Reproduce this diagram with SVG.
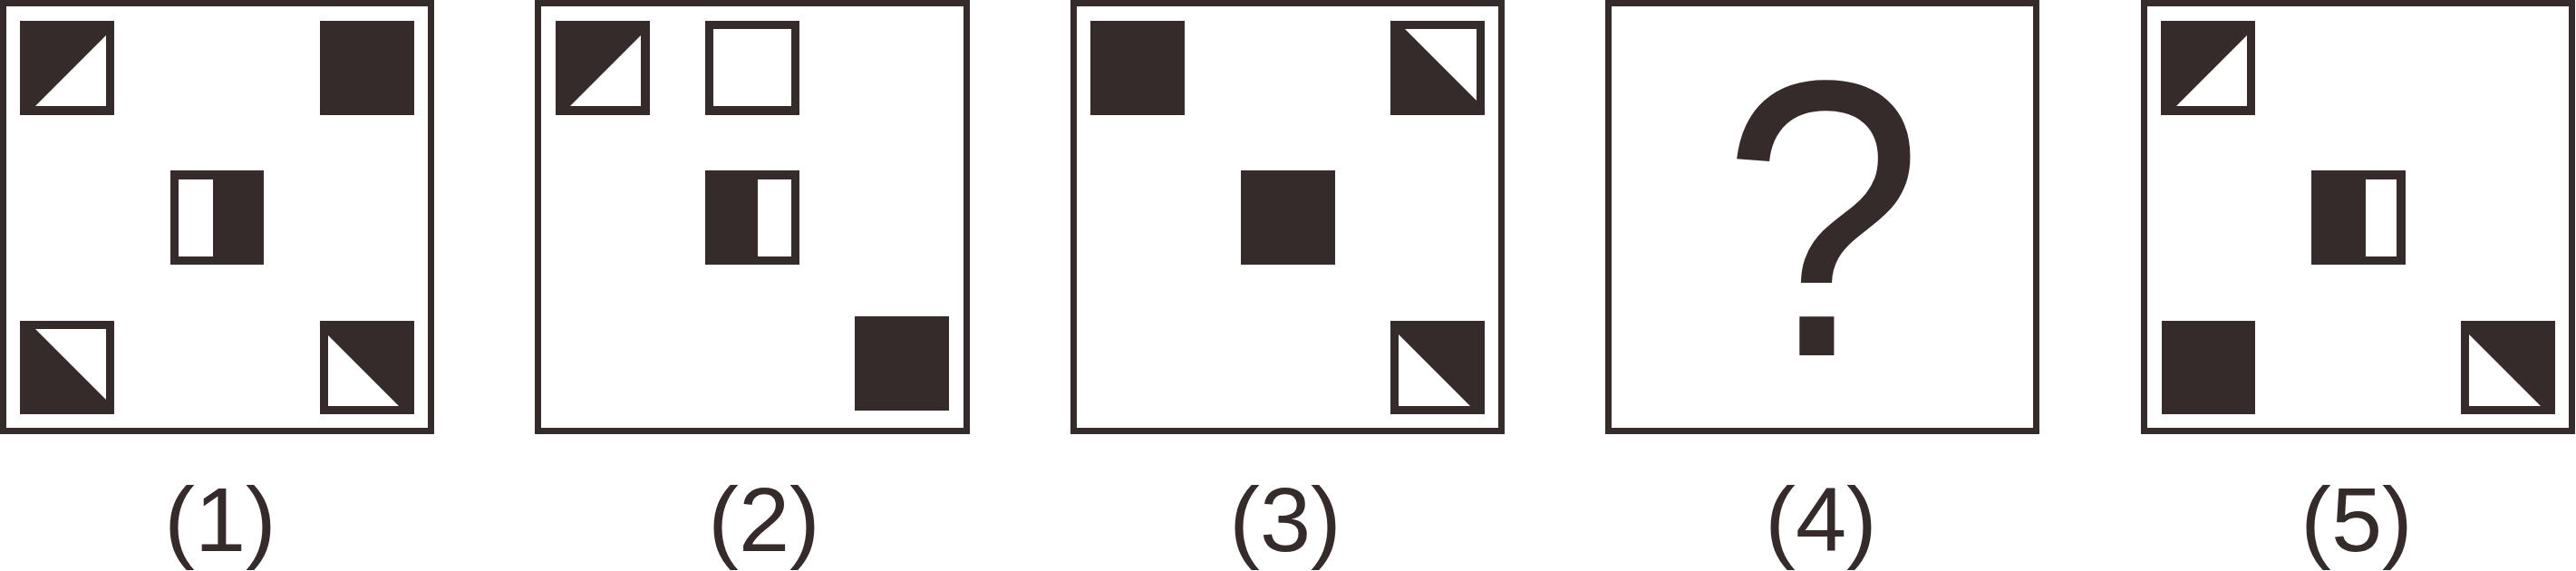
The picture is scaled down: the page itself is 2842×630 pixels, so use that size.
<svg xmlns="http://www.w3.org/2000/svg" width="2842" height="630" viewBox="0 0 2842 630">
<style>
.frame{fill:none;stroke:#352b2a;stroke-width:7}
.k{fill:#352b2a}
.w{fill:#ffffff}
.lbl{font-family:"Liberation Sans",Arial,sans-serif;font-size:101px;fill:#352b2a;text-anchor:middle}
.q{font-family:"Liberation Sans",Arial,sans-serif;font-size:435px;fill:#352b2a;text-anchor:middle}
</style>
<rect width="2842" height="630" fill="#ffffff"/>
<g id="panel1">
<rect class="frame" x="3.5" y="3.5" width="472" height="472"/>
<rect class="k" x="22" y="23" width="104" height="104"/>
<polygon class="w" points="39,117 117,39 117,117"/>
<rect class="k" x="353" y="23" width="104" height="104"/>
<rect class="k" x="188" y="188" width="103" height="104"/>
<rect class="w" x="197" y="198" width="38" height="85"/>
<rect class="k" x="22" y="354" width="104" height="103"/>
<polygon class="w" points="39,363 117,363 117,441"/>
<rect class="k" x="353" y="354" width="104" height="103"/>
<polygon class="w" points="362,370 362,448 440,448"/>
</g>
<g id="panel2">
<rect class="frame" x="593.5" y="3.5" width="473" height="472"/>
<rect class="k" x="613" y="23" width="104" height="104"/>
<polygon class="w" points="629,117 707,39 707,117"/>
<rect class="k" x="778" y="23" width="104" height="104"/>
<rect class="w" x="787" y="32" width="86" height="85"/>
<rect class="k" x="778" y="188" width="104" height="104"/>
<rect class="w" x="836" y="198" width="37" height="85"/>
<rect class="k" x="943" y="349" width="104" height="104"/>
</g>
<g id="panel3">
<rect class="frame" x="1184.5" y="3.5" width="472" height="472"/>
<rect class="k" x="1203" y="23" width="104" height="104"/>
<rect class="k" x="1534" y="23" width="104" height="104"/>
<polygon class="w" points="1550,32 1629,32 1629,111"/>
<rect class="k" x="1369" y="188" width="104" height="104"/>
<rect class="k" x="1534" y="354" width="104" height="103"/>
<polygon class="w" points="1543,369 1543,448 1622,448"/>
</g>
<g id="panel4">
<rect class="frame" x="1774.5" y="3.5" width="472" height="472"/>
<text class="q" transform="translate(2011,392) scale(0.92,1)" x="0" y="0">?</text>
</g>
<g id="panel5">
<rect class="frame" x="2365.5" y="3.5" width="472" height="472"/>
<rect class="k" x="2384" y="23" width="104" height="104"/>
<polygon class="w" points="2401,117 2479,39 2479,117"/>
<rect class="k" x="2550" y="188" width="104" height="104"/>
<rect class="w" x="2610" y="198" width="34" height="85"/>
<rect class="k" x="2385" y="354" width="103" height="103"/>
<rect class="k" x="2715" y="354" width="104" height="103"/>
<polygon class="w" points="2724,369 2724,448 2803,448"/>
</g>
<g id="labels">
<text class="lbl" x="243" y="608">(1)</text>
<text class="lbl" x="843" y="608">(2)</text>
<text class="lbl" x="1418" y="608">(3)</text>
<text class="lbl" x="2009" y="608">(4)</text>
<text class="lbl" x="2600" y="608">(5)</text>
</g>
<g id="connectors"></g>
</svg>
